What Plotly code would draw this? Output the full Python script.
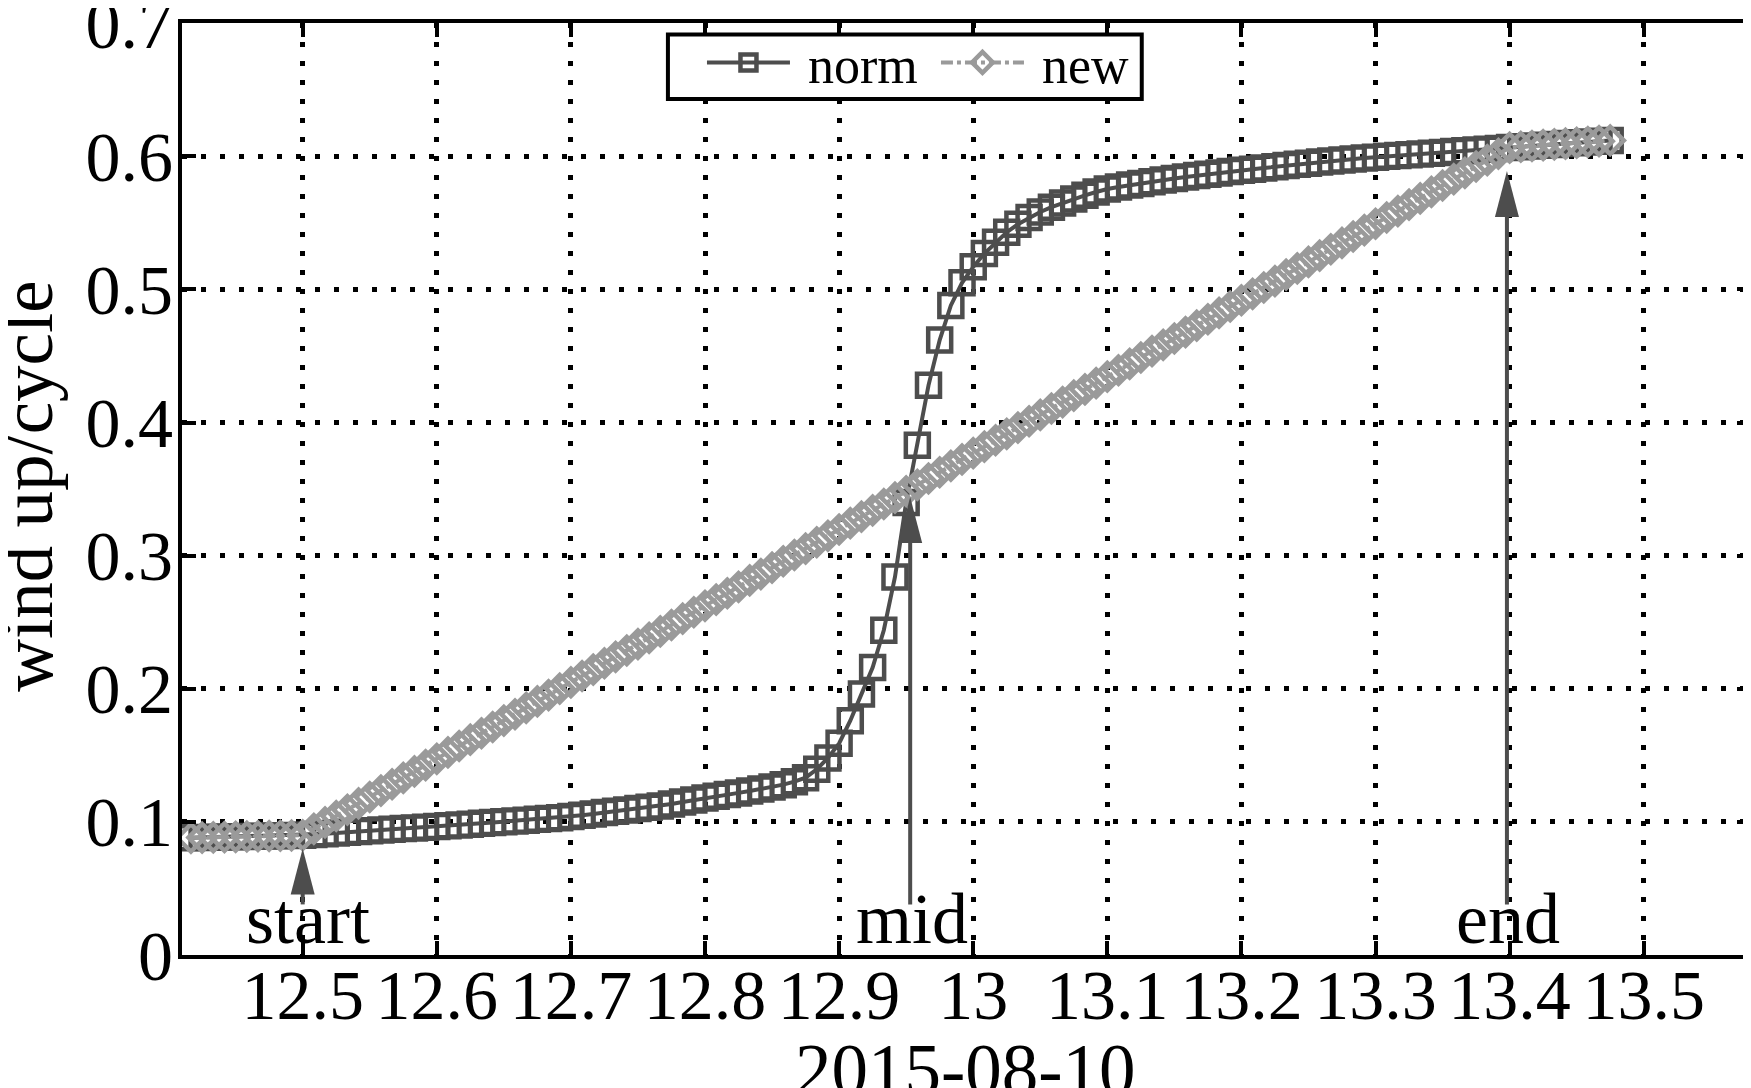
import pandas as pd
import plotly.graph_objects as go

# wind-up per cycle, sampled every 30 s from 12:25:00 on 2015-08-10
norm = [
    0.0880, 0.0882, 0.0884, 0.0886, 0.0888, 0.0890, 0.0892, 0.0894, 0.0896, 0.0898, 0.0900,
    0.0906, 0.0911, 0.0917, 0.0922, 0.0928, 0.0933, 0.0939, 0.0944, 0.0950, 0.0955, 0.0960, 0.0965,
    0.0971, 0.0977, 0.0983, 0.0989, 0.0995, 0.1001, 0.1007, 0.1013, 0.1019, 0.1025, 0.1032, 0.1040,
    0.1050, 0.1060, 0.1070, 0.1080, 0.1090, 0.1100, 0.1110, 0.1120, 0.1135, 0.1150, 0.1165, 0.1180,
    0.1192, 0.1205, 0.1218, 0.1232, 0.1247, 0.1262, 0.1280, 0.1302, 0.1332, 0.1395, 0.1480, 0.1590,
    0.1760, 0.1960, 0.2160, 0.2440, 0.2840, 0.3400, 0.3830, 0.4280, 0.4620, 0.4880, 0.5050, 0.5170,
    0.5270, 0.5355, 0.5430, 0.5490, 0.5540, 0.5582, 0.5618, 0.5650, 0.5680, 0.5707, 0.5732, 0.5755,
    0.5770, 0.5784, 0.5797, 0.5810, 0.5822, 0.5834, 0.5845, 0.5856, 0.5866, 0.5876, 0.5886, 0.5895,
    0.5904, 0.5913, 0.5922, 0.5931, 0.5940, 0.5949, 0.5957, 0.5965, 0.5973, 0.5980, 0.5987, 0.5994,
    0.6000, 0.6006, 0.6012, 0.6018, 0.6024, 0.6030, 0.6036, 0.6042, 0.6048, 0.6054, 0.6060, 0.6066,
    0.6072, 0.6078, 0.6084, 0.6090, 0.6096, 0.6102, 0.6108, 0.6114, 0.6120,
]

new = [
    0.0880, 0.0882, 0.0884, 0.0886, 0.0888, 0.0890, 0.0892, 0.0894, 0.0896, 0.0898, 0.0900,
    0.0948, 0.0996, 0.1044, 0.1091, 0.1139, 0.1187, 0.1235, 0.1283, 0.1331, 0.1379, 0.1426, 0.1474,
    0.1522, 0.1570, 0.1618, 0.1666, 0.1713, 0.1761, 0.1809, 0.1857, 0.1905, 0.1953, 0.2001, 0.2048,
    0.2096, 0.2144, 0.2192, 0.2240, 0.2288, 0.2336, 0.2383, 0.2431, 0.2479, 0.2527, 0.2575, 0.2623,
    0.2670, 0.2718, 0.2766, 0.2814, 0.2862, 0.2910, 0.2958, 0.3005, 0.3053, 0.3101, 0.3149, 0.3197,
    0.3245, 0.3293, 0.3340, 0.3388, 0.3436, 0.3484, 0.3532, 0.3580, 0.3627, 0.3675, 0.3723, 0.3771,
    0.3819, 0.3867, 0.3915, 0.3962, 0.4010, 0.4058, 0.4106, 0.4154, 0.4202, 0.4250, 0.4297, 0.4345,
    0.4393, 0.4441, 0.4489, 0.4537, 0.4584, 0.4632, 0.4680, 0.4728, 0.4776, 0.4824, 0.4872, 0.4919,
    0.4967, 0.5015, 0.5063, 0.5111, 0.5159, 0.5207, 0.5254, 0.5302, 0.5350, 0.5398, 0.5446, 0.5494,
    0.5541, 0.5589, 0.5637, 0.5685, 0.5733, 0.5781, 0.5829, 0.5876, 0.5924, 0.5972, 0.6020, 0.6066,
    0.6072, 0.6078, 0.6084, 0.6090, 0.6096, 0.6102, 0.6108, 0.6114, 0.6120,
]

x_ticks = [12.5, 12.6, 12.7, 12.8, 12.9, 13.0, 13.1, 13.2, 13.3, 13.4, 13.5]
x_labels = ["12.5", "12.6", "12.7", "12.8", "12.9", "13", "13.1", "13.2", "13.3", "13.4", "13.5"]
y_ticks = [0, 0.1, 0.2, 0.3, 0.4, 0.5, 0.6, 0.7]
y_labels = ["0", "0.1", "0.2", "0.3", "0.4", "0.5", "0.6", "0.7"]

marks = ["start", "mid", "end"]
mark_x = [12.5, 12.953, 13.398]
mark_tip = [0.080, 0.344, 0.589]

times = pd.date_range("2015-08-10 12:25:00", periods=len(norm), freq="30s")
hours = times.hour + times.minute / 60 + times.second / 3600

DARK = "#4d4d4d"
LIGHT = "#9a9a9a"
FONT = "Liberation Serif"

fig = go.Figure()
fig.add_trace(go.Scatter(
    x=hours, y=norm, name="\u00a0norm", mode="lines+markers",
    line=dict(color=DARK, width=4),
    marker=dict(symbol="square-open", size=23, color=DARK, line=dict(width=4.5, color=DARK)),
))
fig.add_trace(go.Scatter(
    x=hours, y=new, name="\u00a0new", mode="lines+markers",
    line=dict(color=LIGHT, width=4, dash="dashdot"),
    marker=dict(symbol="diamond-open", size=21, color=LIGHT, line=dict(width=4.5, color=LIGHT)),
))

# legend frame (plotly legend itself is drawn transparent on top)
fig.add_shape(type="rect", xref="paper", yref="paper", x0=0.3097, x1=0.6117, y0=0.9185, y1=0.9877,
              line=dict(color="black", width=4), fillcolor="white", layer="above")

# arrows and their labels
for label, x, tip, shift in zip(marks, mark_x, mark_tip, [5, 2, 1]):
    fig.add_shape(type="line", xref="x", yref="y", x0=x, x1=x, y0=0.038, y1=tip - 0.02,
                  line=dict(color=DARK, width=4))
    fig.add_shape(type="path", xref="x", yref="y", xsizemode="pixel", ysizemode="pixel",
                  xanchor=x, yanchor=tip, path="M0,0 L-12,-46 L12,-46 Z",
                  fillcolor=DARK, line=dict(width=0))
    fig.add_annotation(x=x, y=0.0274, text=label, showarrow=False, xshift=shift,
                       xref="x", yref="y", yanchor="middle",
                       font=dict(family=FONT, size=72, color="black"))

# axis titles
fig.add_annotation(x=0.4994, y=-0.124, xref="paper", yref="paper", text="2015-08-10",
                   showarrow=False, xanchor="center", yanchor="middle",
                   font=dict(family=FONT, size=73, color="black"))
fig.add_annotation(x=-0.0981, y=0.5035, xref="paper", yref="paper", text="wind up/cycle",
                   showarrow=False, textangle=-90, xanchor="center", yanchor="middle",
                   font=dict(family=FONT, size=73, color="black"))

axis_style = dict(
    ticks="inside", ticklen=14, tickwidth=4, tickcolor="black",
    showline=True, linewidth=4, linecolor="black", mirror="allticks",
    showgrid=True, gridcolor="black", gridwidth=5, griddash="5px,14px",
    zeroline=False, automargin=False, ticklabeloverflow="allow",
    tickfont=dict(family=FONT, size=70, color="black"),
)

fig.update_xaxes(range=[12.41, 13.58], tickvals=x_ticks, ticktext=x_labels,
                 ticklabelstandoff=-24, **axis_style)
fig.update_yaxes(range=[0, 0.7002], tickvals=y_ticks, ticktext=y_labels,
                 ticklabelstandoff=-9, **axis_style)

# the page body adds a small offset, margins account for it
fig.update_layout(
    width=1751, height=1088,
    margin=dict(l=174, r=8, t=15, b=141),
    plot_bgcolor="white", paper_bgcolor="white",
    font=dict(family=FONT, color="black"),
    legend=dict(
        orientation="h", x=0.3314, xanchor="left", y=0.9575, yanchor="middle",
        bgcolor="rgba(0,0,0,0)", borderwidth=0,
        font=dict(family=FONT, size=52, color="black"),
        itemwidth=83, entrywidth=136,
    ),
)

fig.write_html("out.html")
